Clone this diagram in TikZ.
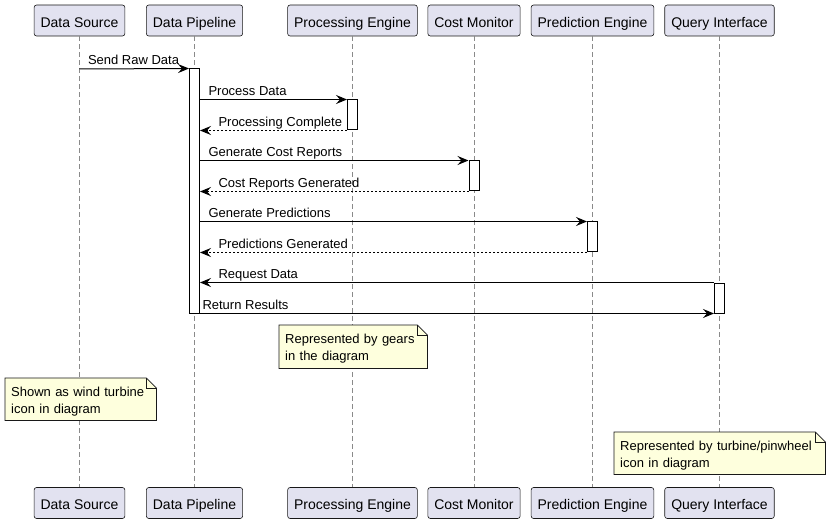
\documentclass[tikz,border=0pt]{standalone}
\usepackage{fontspec}
\setmainfont{Liberation Sans}
\usetikzlibrary{arrows.meta,positioning}

\definecolor{partbg}{HTML}{E2E2F0}
\definecolor{notebg}{HTML}{FEFFDD}
\definecolor{edgegray}{HTML}{181818}
\definecolor{lifegray}{HTML}{8A8A8A}

% folded corner of a note node
\newcommand{\notefold}[1]{%
  \fill[white] ([xshift=-10pt]#1.north east) -- (#1.north east) -- ([yshift=-10pt]#1.north east) -- cycle;
  \draw[notedraw] (#1.north west) -- ([xshift=-10pt]#1.north east) -- ([yshift=-10pt]#1.north east)
    -- (#1.south east) -- (#1.south west) -- cycle;
  \draw[notedraw] ([xshift=-10pt]#1.north east) |- ([yshift=-10pt]#1.north east);
}

\begin{document}
\begin{tikzpicture}[x=1pt,y=-1pt,>={Stealth[length=11pt,width=9pt,inset=4pt]},
    part/.style={draw=edgegray,fill=partbg,rounded corners=2.5pt,line width=0.6pt,
      minimum height=31pt,inner xsep=6.5pt,text height=13.3pt,text depth=0pt,
      font=\fontsize{14}{16}\selectfont},
    lifeline/.style={lifegray,line width=0.8pt,dash pattern=on 5pt off 3pt},
    act/.style={draw=black,fill=white,line width=1pt,minimum width=10pt,inner sep=0pt},
    msg/.style={->,line width=1pt},
    ret/.style={msg,dash pattern=on 2pt off 2pt},
    lbl/.style={anchor=base west,inner sep=0pt,xshift=#1,yshift=4pt,font=\fontsize{13}{15}\selectfont},
    lbl/.default=8pt,
    note/.style={fill=notebg,anchor=north west,align=left,inner xsep=6pt,inner ysep=0pt,
      font=\fontsize{13}{17}\selectfont,execute at begin node={\rule{0pt}{14pt}}},
    notedraw/.style={draw=edgegray,line width=0.7pt}]
    \useasboundingbox (0,0) rectangle (831,524);

    % participants
    \node[part] (ds) at (79.5,20.5)  {Data Source};
    \node[part] (dp) at (194.5,20.5) {Data Pipeline};
    \node[part] (pe) at (352.5,20.5) {Processing Engine};
    \node[part] (cm) at (474,20.5)   {Cost Monitor};
    \node[part] (pr) at (592.5,20.5) {Prediction Engine};
    \node[part] (qi) at (719.5,20.5) {Query Interface};

    \node[part] (dsEnd) at (79.5,503)  {Data Source};
    \node[part] (dpEnd) at (194.5,503) {Data Pipeline};
    \node[part] (peEnd) at (352.5,503) {Processing Engine};
    \node[part] (cmEnd) at (474,503)   {Cost Monitor};
    \node[part] (prEnd) at (592.5,503) {Prediction Engine};
    \node[part] (qiEnd) at (719.5,503) {Query Interface};

    \foreach \p in {ds,dp,pe,cm,pr,qi}
      \draw[lifeline] (\p.south) -- (\p End.north);

    % activations
    \node[act,minimum height=244pt] (dpA) at (194.5,191) {};
    \node[act,minimum height=30pt]  (peA) at (352.5,115) {};
    \node[act,minimum height=30pt]  (cmA) at (474,176)   {};
    \node[act,minimum height=30pt]  (prA) at (592.5,237) {};
    \node[act,minimum height=30pt]  (qiA) at (719.5,298) {};

    % messages
    \coordinate (dsOut) at (79.5,69);
    \draw[msg] (dsOut) -- (dpA.north west) node[lbl,at start] {Send Raw Data};
    \draw[msg] (dpA.east |- peA.north) -- (peA.north west) node[lbl,at start] {Process Data};
    \draw[ret] (peA.south west) -- (dpA.east |- peA.south) node[lbl=18pt,at end] {Processing Complete};
    \draw[msg] (dpA.east |- cmA.north) -- (cmA.north west) node[lbl,at start] {Generate Cost Reports};
    \draw[ret] (cmA.south west) -- (dpA.east |- cmA.south) node[lbl=18pt,at end] {Cost Reports Generated};
    \draw[msg] (dpA.east |- prA.north) -- (prA.north west) node[lbl,at start] {Generate Predictions};
    \draw[ret] (prA.south west) -- (dpA.east |- prA.south) node[lbl=18pt,at end] {Predictions Generated};
    \draw[msg] (qiA.north west) -- (dpA.east |- qiA.north) node[lbl=18pt,at end] {Request Data};
    \draw[msg] (dpA.south east) -- (qiA.south west) node[lbl=2pt,at start] {Return Results};

    % notes
    \node[note,text width=136pt,minimum height=43pt] (gearNote) at (279,325)
      {Represented by gears\\in the diagram};
    \notefold{gearNote}
    \node[note,text width=139pt,minimum height=42pt] (windNote) at (5,378)
      {Shown as wind turbine\\icon in diagram};
    \notefold{windNote}
    \node[note,text width=199pt,minimum height=42pt] (turbNote) at (614,432)
      {Represented by turbine/pinwheel\\icon in diagram};
    \notefold{turbNote}
  \end{tikzpicture}
\end{document}
